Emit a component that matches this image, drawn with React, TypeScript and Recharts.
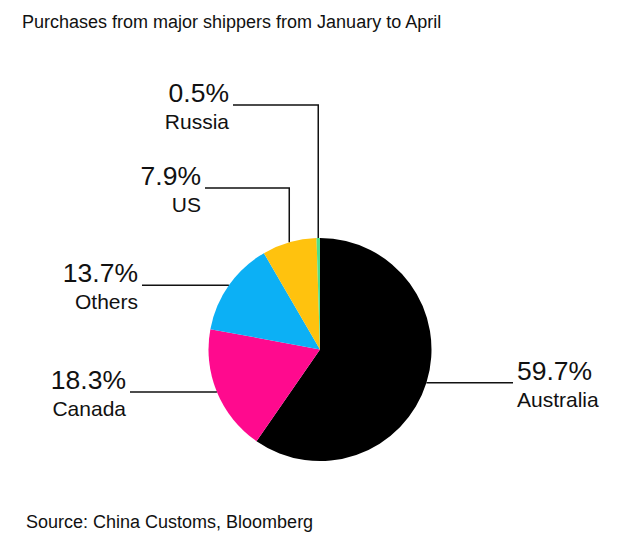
import { Cell, Pie, PieChart } from "recharts";

const names = ["Australia", "Canada", "Others", "US", "Russia"];
const shares = [59.7, 18.3, 13.7, 7.9, 0.5];
const colors = ["#000000", "#ff0a8e", "#0cb0f5", "#ffc20e", "#4fe08c"];

const data = names.map((name, i) => ({ name, value: shares[i] }));

// where each leader line ends (and bends, for the two small slices at the top)
const callouts: Record<string, { endX: number; elbowY?: number; right?: boolean }> = {
  Australia: { endX: 513, right: true },
  Canada: { endX: 130 },
  Others: { endX: 142 },
  US: { endX: 205, elbowY: 188 },
  Russia: { endX: 233, elbowY: 105 },
};

const RAD = Math.PI / 180;
const font = "'Liberation Sans', Arial, sans-serif";

function Callout(props: any) {
  const { cx, cy, midAngle, outerRadius, name, value } = props;
  const c = callouts[name];
  const x0 = cx + outerRadius * Math.cos(-midAngle * RAD);
  const y0 = cy + outerRadius * Math.sin(-midAngle * RAD);
  const y = c.elbowY ?? y0;
  const pts = c.elbowY != null ? `${x0},${y0} ${x0},${y} ${c.endX},${y}` : `${x0},${y0} ${c.endX},${y}`;
  const tx = c.right ? c.endX + 4 : c.endX - 4;
  const anchor = c.right ? "start" : "end";
  return (
    <g>
      <polyline points={pts} fill="none" stroke="#111" strokeWidth={1.5} />
      <text x={tx} y={y - 3} textAnchor={anchor} fontSize={26.5} fill="#111" fontFamily={font}>
        {`${value}%`}
      </text>
      <text x={tx} y={y + 24} textAnchor={anchor} fontSize={21} fill="#111" fontFamily={font}>
        {name}
      </text>
    </g>
  );
}

export default function App() {
  return (
    <div style={{ position: "relative", width: 624, height: 548, background: "#fff", fontFamily: font }}>
      <style>{`body{margin:0}`}</style>
      <div style={{ position: "absolute", left: 22, top: 13, fontSize: 18, lineHeight: 1, color: "#111", whiteSpace: "nowrap" }}>
        Purchases from major shippers from January to April
      </div>
      <PieChart width={624} height={548} margin={{ top: 0, right: 0, bottom: 0, left: 0 }}>
        <Pie
          data={data}
          dataKey="value"
          nameKey="name"
          cx={320}
          cy={349.5}
          outerRadius={111.5}
          startAngle={90}
          endAngle={-270}
          stroke="none"
          label={Callout}
          labelLine={false}
          isAnimationActive={false}
        >
          {data.map((d, i) => (
            <Cell key={d.name} fill={colors[i]} />
          ))}
        </Pie>
      </PieChart>
      <div style={{ position: "absolute", left: 26, top: 513, fontSize: 18, lineHeight: 1, color: "#111", whiteSpace: "nowrap" }}>
        Source: China Customs, Bloomberg
      </div>
    </div>
  );
}
